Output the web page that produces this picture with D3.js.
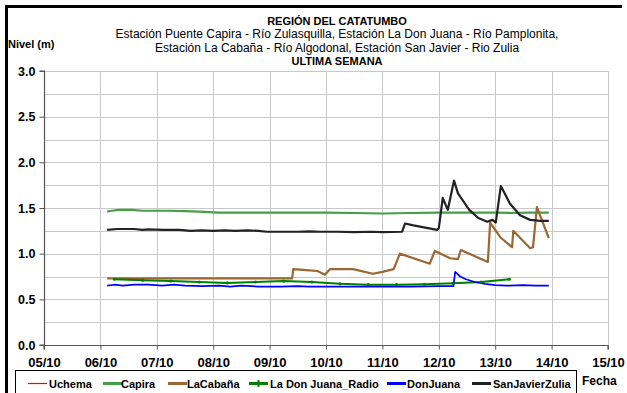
<!DOCTYPE html>
<html>
<head>
<meta charset="utf-8">
<script src="https://cdn.jsdelivr.net/npm/d3@7/dist/d3.min.js"></script>
<style>
  html, body { margin: 0; padding: 0; background: #fff; }
  svg { display: block; font-family: "Liberation Sans", Arial, sans-serif; }
</style>
</head>
<body>
<script>
// Water level series, [day of October, level in metres]
const uchema = [];
const capira = [[6.12,1.46],[6.2,1.47],[6.33,1.48],[6.55,1.48],[6.75,1.47],[7.2,1.47],[7.5,1.465],[7.75,1.46],[8.1,1.45],[9.0,1.45],[9.6,1.45],[10.0,1.45],[10.5,1.445],[11.0,1.44],[11.5,1.445],[12.0,1.45],[12.6,1.45],[13.0,1.45],[13.3,1.445],[13.6,1.45],[13.95,1.45]];
const laCabana = [[6.12,0.73],[9.40,0.73],[9.42,0.83],[9.65,0.82],[9.85,0.81],[9.98,0.77],[10.07,0.83],[10.48,0.83],[10.83,0.78],[11.0,0.80],[11.2,0.83],[11.31,1.00],[11.84,0.89],[11.93,1.03],[12.2,0.95],[12.34,0.94],[12.39,1.04],[12.87,0.91],[12.91,1.34],[13.09,1.18],[13.30,1.07],[13.32,1.25],[13.62,1.06],[13.67,1.07],[13.74,1.51],[13.95,1.17]];
const laDonJuanaRadio = [[6.25,0.72],[6.75,0.71],[7.25,0.70],[7.75,0.69],[8.25,0.68],[8.75,0.69],[9.25,0.70],[9.75,0.69],[10.25,0.67],[10.75,0.66],[11.25,0.66],[11.75,0.665],[12.25,0.675],[12.75,0.69],[13.25,0.72]];
const donJuana = [[6.12,0.65],[6.25,0.66],[6.4,0.65],[6.6,0.66],[6.85,0.66],[7.1,0.65],[7.3,0.66],[7.5,0.65],[7.8,0.645],[8.1,0.65],[8.3,0.64],[8.5,0.65],[8.8,0.64],[9.2,0.64],[9.5,0.645],[9.7,0.64],[10.0,0.64],[10.5,0.64],[11.0,0.64],[11.5,0.64],[12.0,0.645],[12.26,0.645],[12.29,0.80],[12.38,0.75],[12.48,0.72],[12.64,0.69],[12.82,0.67],[13.0,0.655],[13.2,0.65],[13.5,0.655],[13.7,0.65],[13.95,0.65]];
const sanJavierZulia = [[6.12,1.26],[6.3,1.27],[6.6,1.27],[6.75,1.26],[6.85,1.265],[7.1,1.26],[7.4,1.26],[7.6,1.25],[7.8,1.255],[8.0,1.25],[8.2,1.255],[8.4,1.25],[8.6,1.255],[8.8,1.25],[8.95,1.24],[9.2,1.24],[9.5,1.24],[9.7,1.245],[9.9,1.24],[10.2,1.24],[10.5,1.235],[10.8,1.24],[11.0,1.235],[11.35,1.24],[11.40,1.33],[11.55,1.31],[11.97,1.26],[12.0,1.28],[12.07,1.61],[12.16,1.48],[12.27,1.80],[12.34,1.66],[12.54,1.48],[12.7,1.39],[12.86,1.35],[12.95,1.37],[13.01,1.34],[13.1,1.74],[13.26,1.55],[13.44,1.42],[13.62,1.37],[13.8,1.36],[13.95,1.36]];

const dayTicks = [5,6,7,8,9,10,11,12,13,14,15];
const dayLabels = ["05/10","06/10","07/10","08/10","09/10","10/10","11/10","12/10","13/10","14/10","15/10"];
const levelTicks = [0,0.5,1.0,1.5,2.0,2.5,3.0];
const levelGrid = [0.25,0.5,0.75,1.0,1.25,1.5,1.75,2.0,2.25,2.5,2.75,3.0];

const seriesNames = ["Uchema","Capira","LaCabaña","La Don Juana_Radio","DonJuana","SanJavierZulia"];
const seriesData = [uchema, capira, laCabana, laDonJuanaRadio, donJuana, sanJavierZulia];
const seriesColors = ["#ff0000","#44a044","#9c6633","#008000","#0000ff","#222222"];
const seriesWidths = [1, 2.2, 2.2, 2, 1.7, 2.2];

const titleLines = [
  {text: "REGIÓN DEL CATATUMBO", bold: true, size: 11},
  {text: "Estación Puente Capira - Río Zulasquilla, Estación La Don Juana - Río Pamplonita,", bold: false, size: 12},
  {text: "Estación La Cabaña - Río Algodonal, Estación San Javier - Rio Zulia", bold: false, size: 12},
  {text: "ULTIMA SEMANA", bold: true, size: 11}
];

const W = 627, H = 393;
const svg = d3.select("body").append("svg").attr("width", W).attr("height", H);
svg.append("rect").attr("width", W).attr("height", H).attr("fill", "#fff");

// outer frame (top and left edges visible)
svg.append("path").attr("d", "M6.5,393 L6.5,6.5 L622,6.5")
  .attr("fill", "none").attr("stroke", "#000").attr("stroke-width", 3);

const plot = {left: 44, right: 608, top: 71, bottom: 345};
const x = d3.scaleLinear().domain([5, 15]).range([plot.left, plot.right]);
const y = d3.scaleLinear().domain([0, 3]).range([plot.bottom, plot.top]);

// grid
const grid = svg.append("g").attr("stroke", "#c8c8c8").attr("stroke-width", 1);
grid.selectAll("line.h").data(levelGrid).join("line").attr("class","h")
  .attr("x1", plot.left).attr("x2", plot.right)
  .attr("y1", d => Math.round(y(d)) + 0.5).attr("y2", d => Math.round(y(d)) + 0.5);
grid.selectAll("line.v").data(dayTicks.slice(1)).join("line").attr("class","v")
  .attr("x1", d => Math.round(x(d)) + 0.5).attr("x2", d => Math.round(x(d)) + 0.5)
  .attr("y1", plot.top).attr("y2", plot.bottom);

// axes
const yAxis = d3.axisLeft(y).tickValues(levelTicks).tickFormat(d3.format(".1f")).tickSize(5).tickPadding(4);
const gy = svg.append("g").attr("transform", `translate(${plot.left + 0.5},0)`).call(yAxis);
const xAxis = d3.axisBottom(x).tickValues(dayTicks).tickFormat((d, i) => dayLabels[i]).tickSize(4).tickPadding(8);
const gx = svg.append("g").attr("transform", `translate(0,${plot.bottom + 0.5})`).call(xAxis);
[gx, gy].forEach(g => {
  g.select(".domain").attr("stroke", "#555").attr("stroke-width", 1.2);
  g.selectAll(".tick line").attr("stroke", "#555");
  g.selectAll(".tick text").attr("fill", "#000").attr("font-weight", "bold")
    .attr("font-family", "Liberation Sans, Arial, sans-serif");
});
gy.selectAll(".tick text").attr("font-size", 12.5);
gx.selectAll(".tick text").attr("font-size", 13);
gy.select(".domain").attr("d", `M-5,${plot.bottom}H0V${plot.top}H-5`);
gx.select(".domain").attr("d", `M${plot.left},4V0H${plot.right}V4`);

// series lines
const line = d3.line().x(d => x(d[0])).y(d => y(d[1]));
seriesData.forEach((data, i) => {
  if (!data.length) return;
  svg.append("path").datum(data).attr("d", line)
    .attr("fill", "none").attr("stroke", seriesColors[i])
    .attr("stroke-width", seriesWidths[i]).attr("stroke-linejoin", "round");
});
svg.append("g").selectAll("circle").data(laDonJuanaRadio).join("circle")
  .attr("cx", d => x(d[0])).attr("cy", d => y(d[1])).attr("r", 1.6).attr("fill", "#008000");

// titles
svg.append("g").selectAll("text").data(titleLines).join("text")
  .attr("x", 337).attr("y", (d, i) => 25 + i * 13.3)
  .attr("text-anchor", "middle").attr("font-size", d => d.size)
  .attr("font-weight", d => d.bold ? "bold" : "normal").text(d => d.text);
svg.append("text").attr("x", 8).attr("y", 48).attr("font-size", 11).attr("font-weight", "bold").text("Nivel (m)");
svg.append("text").attr("x", 582).attr("y", 385).attr("font-size", 12).attr("font-weight", "bold").text("Fecha");

// legend
svg.append("rect").attr("x", 15.5).attr("y", 370.5).attr("width", 561).attr("height", 40)
  .attr("fill", "none").attr("stroke", "#000").attr("stroke-width", 1);
const legendLineX = [28, 103, 168, 249, 387, 472];
const legendTextX = [49, 121, 187, 270, 407, 493];
const lg = svg.append("g");
seriesNames.forEach((name, i) => {
  lg.append("line").attr("x1", legendLineX[i]).attr("x2", legendLineX[i] + 19)
    .attr("y1", 383.5).attr("y2", 383.5)
    .attr("stroke", seriesColors[i]).attr("stroke-width", i === 0 ? 1.2 : 3);
  if (i === 3) {
    lg.append("path").attr("d", `M${legendLineX[i] + 9.5},380 v7 M${legendLineX[i] + 6},383.5 h7`)
      .attr("stroke", seriesColors[i]).attr("stroke-width", 2);
  }
  lg.append("text").attr("x", legendTextX[i]).attr("y", 387.5)
    .attr("font-size", 11).attr("font-weight", "bold").text(name);
});
</script>
</body>
</html>
